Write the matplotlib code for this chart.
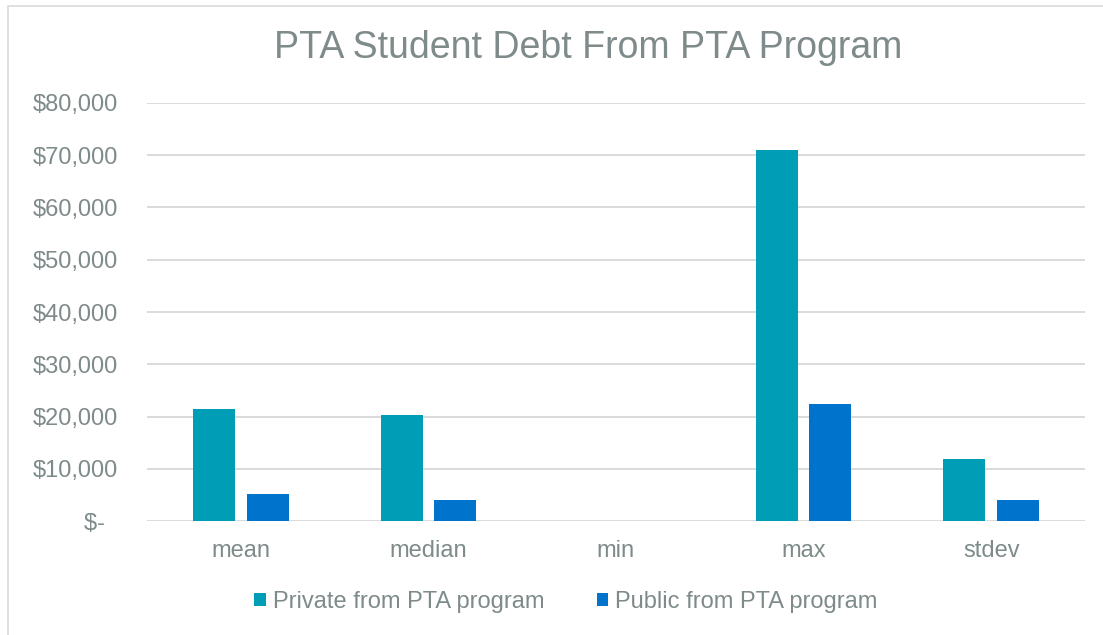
import matplotlib
matplotlib.use("Agg")
import matplotlib.pyplot as plt
from matplotlib.ticker import FuncFormatter
from matplotlib.patches import Rectangle
import numpy as np

plt.rcParams['font.family'] = ['Liberation Sans', 'DejaVu Sans']

categories = ["mean", "median", "min", "max", "stdev"]
private_vals = [21400, 20300, 0, 71000, 11900]
public_vals = [5100, 4100, 0, 22300, 4000]
series_names = ["Private from PTA program", "Public from PTA program"]
yticks = [0, 10000, 20000, 30000, 40000, 50000, 60000, 70000, 80000]

text_color = "#7f8a8a"
grid_color = "#d9dcdc"
c_private = "#009eb6"
c_public = "#0074cd"

W, H = 1103, 635
fig = plt.figure(figsize=(W / 100, H / 100), dpi=100)
fig.patch.set_facecolor("white")

# outer chart border
fig.add_artist(Rectangle((8 / W, -0.1), 1.2, 1 - 6 / H + 0.1, transform=fig.transFigure,
                         fill=False, edgecolor="#d9dcdc", linewidth=1.2))

ax = fig.add_axes([147 / W, 1 - 521 / H, (1085 - 147) / W, (521 - 103) / H])
x = np.arange(len(categories))
bw = 0.224
off = 0.143
ax.bar(x - off, private_vals, bw, color=c_private, label=series_names[0], zorder=3)
ax.bar(x + off, public_vals, bw, color=c_public, label=series_names[1], zorder=3)

ax.set_xlim(-0.5, len(categories) - 0.5)
ax.set_ylim(0, 80000)
ax.set_yticks(yticks)

def fmt(v, pos):
    if v == 0:
        return "$-  "
    return "${:,.0f}".format(v)

ax.yaxis.set_major_formatter(FuncFormatter(fmt))
ax.set_xticks(x)
ax.set_xticklabels(categories)
ax.tick_params(axis="both", length=0, labelsize=17, colors=text_color)
ax.tick_params(axis="y", pad=21)
ax.tick_params(axis="x", pad=14)
for s in ax.spines.values():
    s.set_visible(False)
ax.grid(axis="y", color=grid_color, linewidth=1.4, zorder=0)
ax.set_axisbelow(True)

fig.text(588 / W, 1 - 48 / H, "PTA Student Debt From PTA Program", ha="center", va="center",
         fontsize=27, color=text_color)

leg = fig.legend(loc="center", bbox_to_anchor=(566 / W, 1 - 602 / H), ncol=2, frameon=False,
                 fontsize=17, handlelength=0.5, handleheight=0.5, handletextpad=0.3,
                 columnspacing=2.2)
for t in leg.get_texts():
    t.set_color(text_color)

fig.savefig("out.png", dpi=100)
